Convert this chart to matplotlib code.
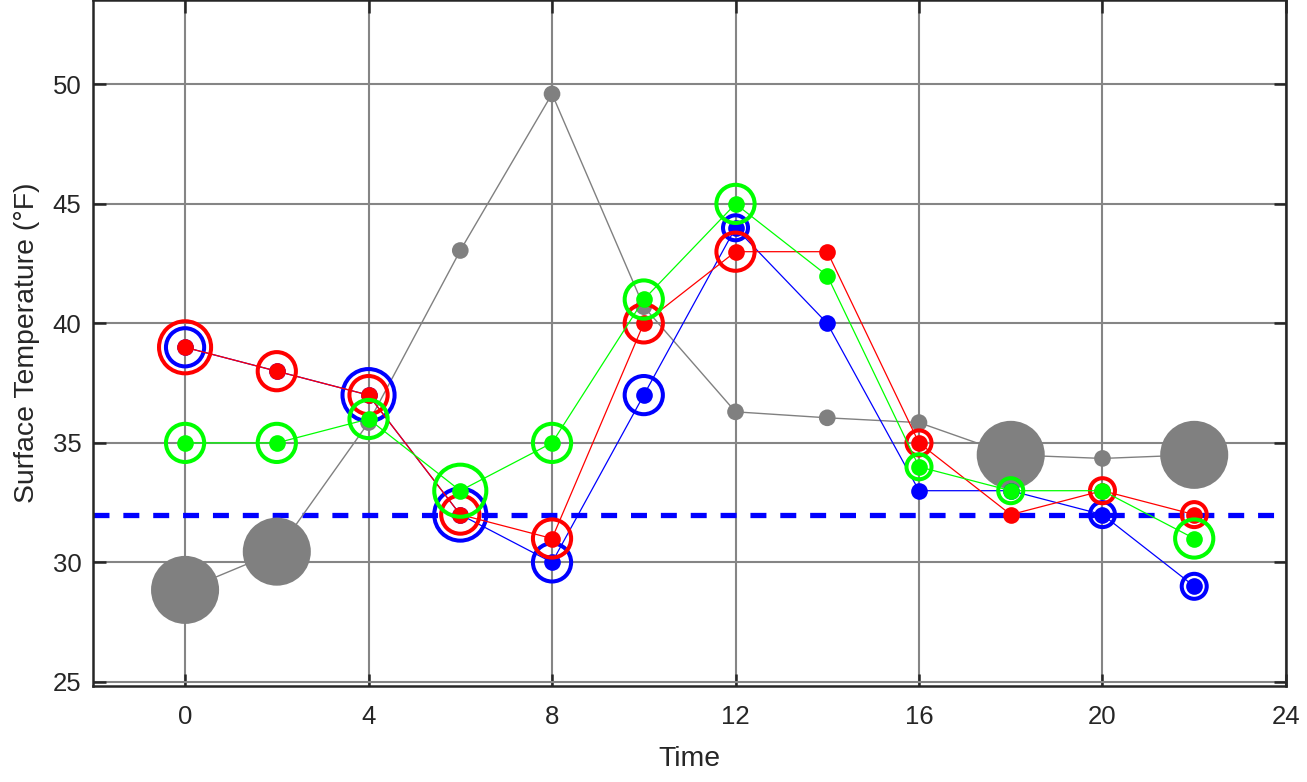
import matplotlib
matplotlib.use('Agg')
import matplotlib.pyplot as plt

# hours of the day
hours = [0, 2, 4, 6, 8, 10, 12, 14, 16, 18, 20, 22]

# reference (gray) series and which points get the big marker
gray_temp = [28.85, 30.45, 35.85, 43.05, 49.6, 40.7, 36.3, 36.05, 35.85, 34.5, 34.35, 34.5]
gray_big = [1, 1, 0, 0, 0, 0, 0, 0, 0, 1, 0, 1]

blue_temp = [39, 38, 37, 32, 30, 37, 44, 40, 33, 33, 32, 29]
red_temp = [39, 38, 37, 32, 31, 40, 43, 43, 35, 32, 33, 32]
green_temp = [35, 35, 36, 33, 35, 41, 45, 42, 34, 33, 33, 31]

# ring level around each point (0 = no ring, 1 small, 2 medium, 3 large)
blue_ring = [2, 0, 3, 3, 2, 2, 1, 0, 0, 0, 1, 1]
red_ring = [3, 2, 2, 2, 2, 2, 2, 0, 1, 0, 1, 1]
green_ring = [2, 2, 2, 3, 2, 2, 2, 0, 1, 1, 0, 2]

freezing = 32

plt.rcParams['font.family'] = ['Liberation Sans', 'DejaVu Sans']
plt.rcParams['lines.scale_dashes'] = False

fig = plt.figure(figsize=(13.07, 7.82), dpi=100)
ax = fig.add_axes([0.0714, 0.1234, 0.9125, 0.8772])

ring_px = {1: 18, 2: 27.5, 3: 37.5}

# gray series
ax.plot(hours, gray_temp, color='#808080', lw=1.0, zorder=3)
sizes = [49 if b else 12 for b in gray_big]
ax.scatter(hours, gray_temp, s=[v ** 2 for v in sizes], color='#808080',
           linewidths=0, zorder=3)

for temps, rings, col in [(blue_temp, blue_ring, '#0000ff'),
                          (red_temp, red_ring, '#ff0000'),
                          (green_temp, green_ring, '#00ff00')]:
    ax.plot(hours, temps, color=col, lw=0.9, zorder=4)
    ax.scatter(hours, temps, s=12 ** 2, color=col, linewidths=0, zorder=4)
    rx = [h for h, r in zip(hours, rings) if r]
    ry = [t for t, r in zip(temps, rings) if r]
    rs = [ring_px[r] ** 2 for r in rings if r]
    ax.scatter(rx, ry, s=rs, facecolors='none', edgecolors=col,
               linewidths=2.9, zorder=4)

# freezing line
ax.axhline(freezing, color='#0000ff', lw=3.8, dashes=(11.5, 10), zorder=2)

ax.set_xlim(-2, 24)
ax.set_ylim(24.85, 53.55)
ax.set_xticks([0, 4, 8, 12, 16, 20, 24])
ax.set_yticks([25, 30, 35, 40, 45, 50])
ax.grid(True, color='#858585', lw=1.5)
ax.set_axisbelow(True)

for s in ax.spines.values():
    s.set_color('#262626')
    s.set_linewidth(1.8)
ax.tick_params(direction='in', length=9, width=1.8, color='#262626',
               top=True, right=True, labelsize=18.5, labelcolor='#262626')
ax.tick_params(axis='y', pad=8.5)
ax.tick_params(axis='x', pad=14)

ax.set_xlabel('Time', fontsize=20.4, color='#262626', labelpad=12)
ax.set_ylabel('Surface Temperature (°F)', fontsize=20.4, color='#262626', labelpad=9)

fig.savefig('out.png', dpi=100)
